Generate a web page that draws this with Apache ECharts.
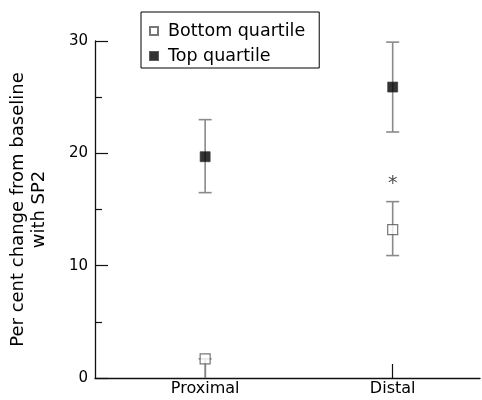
<!DOCTYPE html>
<html><head><meta charset="utf-8">
<script src="https://cdn.jsdelivr.net/npm/echarts@6/dist/echarts.min.js"></script>
<style>html,body{margin:0;padding:0;background:#fff}#c{width:482px;height:400px}</style>
</head><body><div id="c"></div>
<script>
var categories = ['Proximal', 'Distal'];
var catPos = [1, 2];
var bottomMean = [1.7, 13.2];
var bottomLow = [0, 10.9];
var bottomHigh = [1.7, 15.7];
var topMean = [19.7, 25.9];
var topLow = [16.5, 21.9];
var topHigh = [23.0, 29.9];
var starPoints = [[2, 17.6]];

var FONT = 'DejaVu Sans';
function pts(means) { return catPos.map(function (x, i) { return [x, means[i]]; }); }
function errData(lo, hi) { return catPos.map(function (x, i) { return [x, lo[i], hi[i]]; }); }
function errRender(params, api) {
  var x = api.value(0), lo = api.value(1), hi = api.value(2);
  var a = api.coord([x, lo]), b = api.coord([x, hi]);
  var st = { stroke: '#8a8a8a', lineWidth: 1.6 };
  var kids = [{ type: 'line', shape: { x1: a[0], y1: a[1], x2: b[0], y2: b[1] }, style: st }];
  var w = 6.5;
  if (lo > 0) kids.push({ type: 'line', shape: { x1: a[0] - w, y1: a[1], x2: a[0] + w, y2: a[1] }, style: st });
  kids.push({ type: 'line', shape: { x1: b[0] - w, y1: b[1], x2: b[0] + w, y2: b[1] }, style: st });
  return { type: 'group', children: kids };
}
var chart = echarts.init(document.getElementById('c'), null, { renderer: 'canvas' });
chart.setOption({
  animation: false,
  textStyle: { fontFamily: FONT },
  grid: { left: 92, right: 2, top: 41, bottom: 22, containLabel: false },
  legend: {
    orient: 'vertical', left: 141, top: 12,
    data: ['Bottom quartile', 'Top quartile'],
    icon: 'rect', itemWidth: 8, itemHeight: 8, itemGap: 7,
    borderColor: '#000', borderWidth: 1, backgroundColor: '#fff', borderRadius: 0,
    padding: [10, 14, 3, 8],
    textStyle: { fontSize: 17.5, color: '#000', fontFamily: FONT, padding: [0, 0, 0, 5] }
  },
  xAxis: {
    type: 'value', min: 0.4127, max: 2.4656,
    splitLine: { show: false },
    axisLine: { onZero: false, lineStyle: { color: '#111', width: 1.3 } },
    axisTick: { show: true, inside: true, length: 14, customValues: catPos, lineStyle: { color: '#111', width: 1.2 } },
    axisLabel: { customValues: catPos, formatter: function (v) { return categories[catPos.indexOf(v)] || ''; },
      fontSize: 16, color: '#000', margin: 3, fontFamily: FONT }
  },
  yAxis: {
    type: 'value', min: 0, max: 30, interval: 10, position: 'left',
    name: 'Per cent change from baseline\nwith SP2', nameLocation: 'middle', nameGap: 45,
    nameTextStyle: { fontSize: 18, color: '#000', lineHeight: 21, fontFamily: FONT },
    splitLine: { show: false },
    axisLine: { show: true, onZero: false, lineStyle: { color: '#111', width: 1.3 } },
    axisTick: { show: true, inside: true, length: 13, lineStyle: { color: '#111', width: 1.2 } },
    minorTick: { show: true, splitNumber: 2, length: 7, lineStyle: { color: '#111', width: 1.2 } },
    axisLabel: { fontSize: 15, color: '#000', margin: 7, fontFamily: FONT }
  },
  series: [
    { type: 'custom', name: 'errBottom', renderItem: errRender, data: errData(bottomLow, bottomHigh), z: 1, silent: true },
    { type: 'custom', name: 'errTop', renderItem: errRender, data: errData(topLow, topHigh), z: 1, silent: true },
    { type: 'scatter', name: 'Bottom quartile', data: pts(bottomMean), symbol: 'rect', symbolSize: 10, z: 5,
      itemStyle: { color: '#fff', borderColor: '#555', borderWidth: 1.2 } },
    { type: 'scatter', name: 'Top quartile', data: pts(topMean), symbol: 'rect', symbolSize: 10, z: 5,
      itemStyle: { color: '#000', borderColor: '#333', borderWidth: 0.8 } },
    { type: 'scatter', name: 'star', data: starPoints, symbolSize: 0, z: 6,
      label: { show: true, position: 'inside', formatter: '*', fontSize: 19, color: '#222', offset: [0, 4], fontFamily: FONT } }
  ]
});
</script></body></html>
